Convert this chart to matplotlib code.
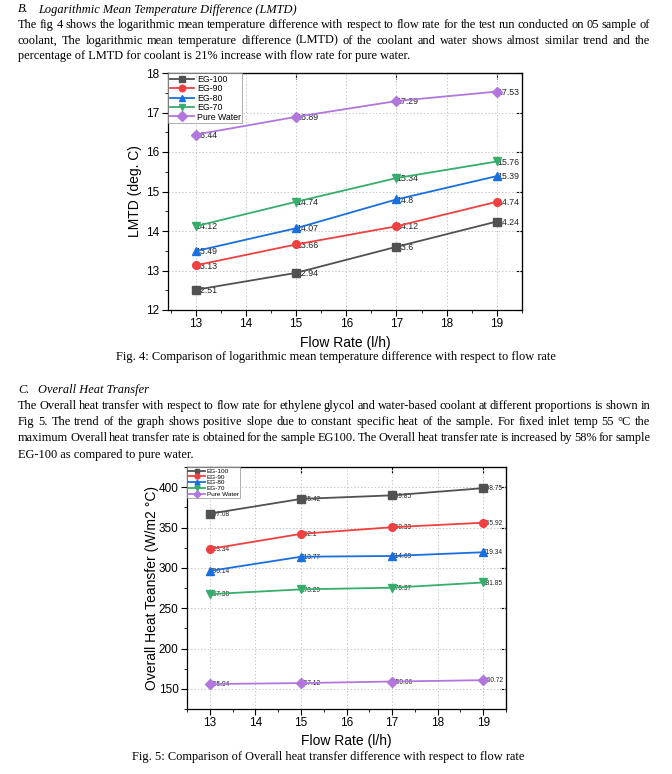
import numpy as np
import matplotlib
matplotlib.use("Agg")
import matplotlib.pyplot as plt
from matplotlib.font_manager import FontProperties

# data
flow = [13, 15, 17, 19]
series = ["EG-100", "EG-90", "EG-80", "EG-70", "Pure Water"]
lmtd_eg100 = [12.51, 12.94, 13.6, 14.24]
lmtd_eg90 = [13.13, 13.66, 14.12, 14.74]
lmtd_eg80 = [13.49, 14.07, 14.8, 15.39]
lmtd_eg70 = [14.12, 14.74, 15.34, 15.76]
lmtd_water = [16.44, 16.89, 17.29, 17.53]
u_eg100 = [367.08, 385.42, 389.85, 398.75]
u_eg90 = [323.34, 342.1, 350.33, 355.92]
u_eg80 = [296.14, 313.77, 314.69, 319.34]
u_eg70 = [267.38, 273.29, 275.37, 281.85]
u_water = [155.94, 157.12, 159.06, 160.72]

colors = ["#515151", "#F14040", "#1A6FDF", "#37AD6B", "#B177DE"]
markers = ["s", "o", "^", "v", "D"]

W, H = 672, 774
fig = plt.figure(figsize=(W / 100, H / 100), dpi=100)
renderer = fig.canvas.get_renderer()

serif = "Liberation Serif"
sans = "Liberation Sans"
body = FontProperties(family=serif, size=8.9)


def px(x, y):
    return x / W, 1 - y / H


def justified(lines, x0, x1, y0, dy):
    # last line left aligned, the others spread to full width
    for i, line in enumerate(lines):
        y = y0 + i * dy
        words = line.split(" ")
        if i == len(lines) - 1 or len(words) == 1:
            fig.text(*px(x0, y), line, fontproperties=body, va="center")
            continue
        widths = [renderer.get_text_width_height_descent(w, body, ismath=False)[0] for w in words]
        gap = (x1 - x0 - sum(widths)) / (len(words) - 1)
        x = x0
        for w, wd in zip(words, widths):
            fig.text(*px(x, y), w, fontproperties=body, va="center")
            x += wd + gap


def heading(letter, title, y):
    fig.text(*px(18, y), letter, family=serif, style="italic", size=8.9, va="center")
    fig.text(*px(38, y), title, family=serif, style="italic", size=8.9, va="center")


heading("B.", "Logarithmic Mean Temperature Difference (LMTD)", 9.5)
justified([
    "The fig 4 shows the logarithmic mean temperature difference with respect to flow rate for the test run conducted on 05 sample of",
    "coolant, The logarithmic mean temperature difference (LMTD) of the coolant and water shows almost similar trend and the",
    "percentage of LMTD for coolant is 21% increase with flow rate for pure water.",
], 18, 650, 25, 15.7)

heading("C.", "Overall Heat Transfer", 390)
justified([
    "The Overall heat transfer with respect to flow rate for ethylene glycol and water-based coolant at different proportions is shown in",
    "Fig 5. The trend of the graph shows positive slope due to constant specific heat of the sample. For fixed inlet temp 55 \u00b0C the",
    "maximum Overall heat transfer rate is obtained for the sample EG100. The Overall heat transfer rate is increased by 58% for sample",
    "EG-100 as compared to pure water.",
], 18, 650, 406, 16.2)

fig.text(*px(336, 357), "Fig. 4: Comparison of logarithmic mean temperature difference with respect to flow rate",
         fontproperties=body, ha="center", va="center")
fig.text(*px(328, 757), "Fig. 5: Comparison of Overall heat transfer difference with respect to flow rate",
         fontproperties=body, ha="center", va="center")


def style_axes(ax, xlim, ylim, ymajor, yminor, legsize, hlen, mscale):
    ax.set_xlim(*xlim)
    ax.set_ylim(*ylim)
    ax.set_xticks(np.arange(13, 20, 1))
    ax.set_xticks(np.arange(12.5, 19.6, 0.5), minor=True)
    ax.set_yticks(ymajor)
    ax.set_yticks(yminor, minor=True)
    ax.grid(True, which="major", color="#c8c8c8", linestyle=(0, (1.5, 2)), linewidth=0.7)
    ax.tick_params(which="major", direction="out", length=4, width=0.8, labelsize=8.5,
                   pad=2)
    ax.tick_params(which="minor", direction="out", length=2, width=0.6)
    for lab in ax.get_xticklabels() + ax.get_yticklabels():
        lab.set_family(sans)
    for sp in ax.spines.values():
        sp.set_linewidth(0.9)
    # mirrored ticks on top / right, inward
    top = ax.secondary_xaxis("top")
    top.set_xticks(np.arange(13, 20, 2))
    top.tick_params(direction="in", length=4, labeltop=False)
    right = ax.secondary_yaxis("right")
    right.set_yticks(ymajor)
    right.tick_params(direction="in", length=4, labelright=False)
    leg = ax.legend(loc="upper left", prop=FontProperties(family=sans, size=legsize),
                    frameon=True, fancybox=False, borderaxespad=0.05, borderpad=0.15,
                    handlelength=hlen, handletextpad=0.3, labelspacing=0.05,
                    markerscale=mscale)
    leg.get_frame().set_edgecolor("#8a8a8a")
    leg.get_frame().set_linewidth(0.6)


def draw(ax, data, msize, fsize):
    for name, vals, c, m in zip(series, data, colors, markers):
        ax.plot(flow, vals, color=c, marker=m, markersize=msize, linewidth=1.3,
                label=name, zorder=3)
        for x, v in zip(flow, vals):
            ax.annotate(f"{v:g}", (x, v), xytext=(0, -0.5), textcoords="offset points",
                        fontsize=fsize, family=sans, color="#222222",
                        ha="left", va="center", zorder=2)


# Fig 4
l, r, t, b = 168, 522, 73, 310
ax1 = fig.add_axes([l / W, 1 - b / H, (r - l) / W, (b - t) / H])
draw(ax1, [lmtd_eg100, lmtd_eg90, lmtd_eg80, lmtd_eg70, lmtd_water], 5.5, 6.3)
style_axes(ax1, (12.45, 19.5), (12, 18), np.arange(12, 19, 1), np.arange(12, 18.1, 0.5),
           6.3, 2.8, 0.85)
ax1.set_xlabel("Flow Rate (l/h)", family=sans, fontsize=10, labelpad=4)
ax1.set_ylabel("LMTD (deg. C)", family=sans, fontsize=10, labelpad=3)

# Fig 5
l, r, t, b = 187, 506, 467, 709
ax2 = fig.add_axes([l / W, 1 - b / H, (r - l) / W, (b - t) / H])
draw(ax2, [u_eg100, u_eg90, u_eg80, u_eg70, u_water], 5.5, 4.8)
style_axes(ax2, (12.5, 19.5), (125, 425), np.arange(150, 401, 50), np.arange(125, 426, 25),
           4.6, 2.6, 0.65)
ax2.set_xlabel("Flow Rate (l/h)", family=sans, fontsize=10, labelpad=3)
ax2.set_ylabel("Overall Heat Teansfer (W/m2 \u00b0C)", family=sans, fontsize=10, labelpad=0)

fig.savefig("out.png", dpi=100)
